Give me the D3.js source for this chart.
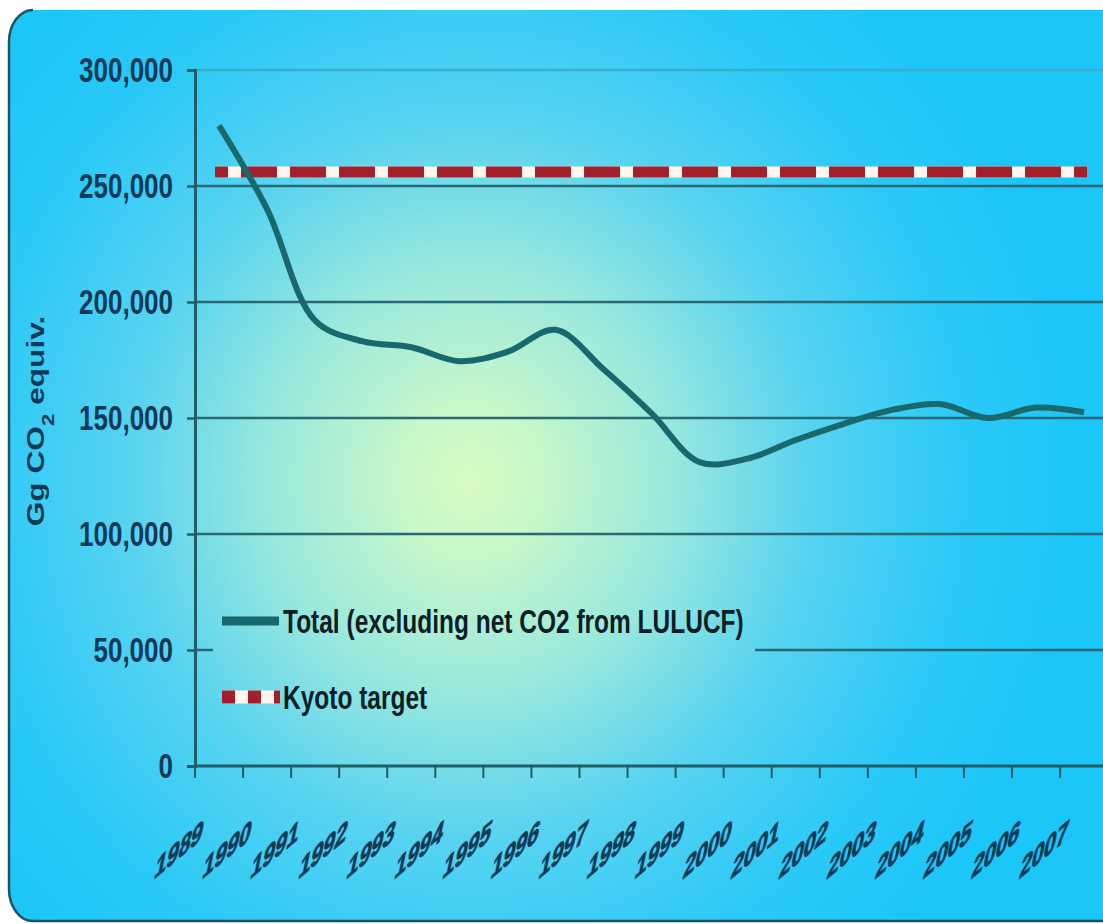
<!DOCTYPE html>
<html>
<head>
<meta charset="utf-8">
<script src="https://cdn.jsdelivr.net/npm/d3@7"></script>
<style>
  body { margin: 0; background: #ffffff; }
  svg { display: block; }
  text { font-family: "Liberation Sans", Arial, sans-serif; font-weight: bold; }
</style>
</head>
<body>
<svg id="chart" width="1103" height="924"></svg>
<script>
// Greenhouse gas emissions, Gg CO2 equivalent
const years = [1989, 1990, 1991, 1992, 1993, 1994, 1995, 1996, 1997, 1998,
               1999, 2000, 2001, 2002, 2003, 2004, 2005, 2006, 2007];
const totalEmissions = [276000, 240000, 192000, 183000, 180500, 174500, 178500, 188000, 171000, 152000,
                        131000, 132500, 140500, 147500, 153500, 156000, 150000, 154500, 152500];
const kyotoTarget = 256000;
const yTickValues = [0, 50000, 100000, 150000, 200000, 250000, 300000];
const seriesNames = ["Total (excluding net CO2 from LULUCF)", "Kyoto target"];
const yTitle = ["Gg CO", "2", " equiv."];

const W = 1103, H = 924;
const stretch = 1.32;           // tall, condensed lettering
const svg = d3.select("#chart");

// ---- background panel ----
const defs = svg.append("defs");
const bg = defs.append("radialGradient")
  .attr("id", "panelFill")
  .attr("gradientUnits", "userSpaceOnUse")
  .attr("cx", 470).attr("cy", 480).attr("r", 620)
  .attr("gradientTransform", "translate(470,480) scale(1,1.05) translate(-470,-480)");
[[0, "#d8fbc2"], [0.12, "#c6f7ca"], [0.33, "#98e8de"], [0.55, "#58d3f0"], [0.8, "#2ac9f7"], [1, "#1bc6f9"]]
  .forEach(([o, c]) => bg.append("stop").attr("offset", o).attr("stop-color", c));

const pLeft = 9, pTop = 10, pBottom = 921, rx = 24, ry = 32;
svg.append("path")
  .attr("d", `M${W} ${pTop} H${pLeft + rx} A${rx} ${ry} 0 0 0 ${pLeft} ${pTop + ry} V${pBottom - ry}
              A${rx} ${ry} 0 0 0 ${pLeft + rx} ${pBottom} H${W} Z`)
  .attr("fill", "url(#panelFill)");
svg.append("path")
  .attr("d", `M${pLeft + rx} ${pTop} A${rx} ${ry} 0 0 0 ${pLeft} ${pTop + ry} V${pBottom - ry}
              A${rx} ${ry} 0 0 0 ${pLeft + rx} ${pBottom} H${W}`)
  .attr("fill", "none").attr("stroke", "#1d5566").attr("stroke-width", 2.5);

// ---- scales ----
const x = d3.scaleBand().domain(years).range([195, 195 + years.length * 48.06]).padding(0);
const y = d3.scaleLinear().domain([0, 300000]).range([766, 70]);
const cx = d => x(d) + x.bandwidth() / 2;

// ---- horizontal gridlines ----
svg.append("g").selectAll("line")
  .data(yTickValues.filter(v => v > 0))
  .join("line")
  .attr("x1", x.range()[0]).attr("x2", W)
  .attr("y1", d => y(d)).attr("y2", d => y(d))
  .attr("stroke", d => d === 300000 ? "#35aed0" : "#2a6873")
  .attr("stroke-width", 2.5);

// ---- y axis ----
const yAxis = svg.append("g")
  .attr("transform", `translate(${x.range()[0]},0)`)
  .call(d3.axisLeft(y).tickValues(yTickValues).tickSize(8).tickFormat(d3.format(",")));
yAxis.select(".domain").attr("stroke", "#1f5d69").attr("stroke-width", 3);
yAxis.selectAll(".tick line").attr("stroke", "#1f5d69").attr("stroke-width", 2.5);
yAxis.selectAll(".tick text")
  .attr("x", null).attr("dy", null)
  .attr("transform", `translate(-22,0) scale(1,${stretch})`)
  .attr("dy", "0.34em")
  .attr("fill", "#0e3a58").attr("font-size", 26).attr("font-family", null);

// ---- x axis (year labels climb in a slanted staircase) ----
const xAxis = svg.append("g")
  .attr("transform", `translate(0,${y(0)})`)
  .call(d3.axisBottom(x).tickSize(0).tickSizeOuter(0));
xAxis.select(".domain").remove();
xAxis.selectAll(".tick text")
  .attr("y", null).attr("dy", null)
  .attr("text-anchor", "end")
  .attr("transform", "translate(-18,74) matrix(1.0,-0.83,-0.3,1.46,0,0)")
  .attr("fill", "#0e3a58").attr("stroke", "#0e3a58").attr("stroke-width", 0.7)
  .attr("font-size", 21.5).attr("font-family", null);

svg.append("line")
  .attr("x1", x.range()[0]).attr("x2", W)
  .attr("y1", y(0)).attr("y2", y(0))
  .attr("stroke", "#1f5d69").attr("stroke-width", 3);
svg.append("g").selectAll("line")
  .data(years)
  .join("line")
  .attr("x1", d => x(d)).attr("x2", d => x(d))
  .attr("y1", y(0)).attr("y2", y(0) + 12)
  .attr("stroke", "#1f5d69").attr("stroke-width", 2);

// ---- Kyoto target ----
const ky = y(kyotoTarget);
const kx0 = cx(years[0]) - 4, kx1 = cx(years[years.length - 1]) + 3;
svg.append("line")
  .attr("x1", kx0).attr("x2", kx1).attr("y1", ky).attr("y2", ky)
  .attr("stroke", "#fff6ee").attr("stroke-width", 11);
svg.append("line")
  .attr("x1", kx0).attr("x2", kx1).attr("y1", ky).attr("y2", ky)
  .attr("stroke", "#a3202b").attr("stroke-width", 11)
  .attr("stroke-dasharray", "36 13").attr("stroke-dashoffset", 23);

// ---- total emissions ----
const line = d3.line()
  .x((d, i) => cx(years[i]))
  .y(d => y(d))
  .curve(d3.curveCatmullRom.alpha(0.5));
svg.append("path")
  .datum(totalEmissions)
  .attr("d", line)
  .attr("fill", "none")
  .attr("stroke", "#17696d")
  .attr("stroke-width", 6)
  .attr("stroke-linejoin", "round");

// ---- legend ----
const legend = svg.append("g");
legend.append("rect")
  .attr("x", 213).attr("y", 585).attr("width", 542).attr("height", 150)
  .attr("fill", "url(#panelFill)");
const ly = [621, 697];
legend.append("line")
  .attr("x1", 222).attr("x2", 279).attr("y1", ly[0]).attr("y2", ly[0])
  .attr("stroke", "#17696d").attr("stroke-width", 9);
legend.append("line")
  .attr("x1", 222).attr("x2", 280).attr("y1", ly[1]).attr("y2", ly[1])
  .attr("stroke", "#fff6ee").attr("stroke-width", 13);
legend.append("line")
  .attr("x1", 222).attr("x2", 280).attr("y1", ly[1]).attr("y2", ly[1])
  .attr("stroke", "#a3202b").attr("stroke-width", 13)
  .attr("stroke-dasharray", "13 13");
legend.selectAll("text")
  .data(seriesNames)
  .join("text")
  .attr("transform", (d, i) => `translate(283,${ly[i]}) scale(1,${stretch})`)
  .attr("dy", "0.36em")
  .attr("font-size", 24.5)
  .attr("fill", "#0b1d26")
  .text(d => d);

// ---- y axis title ----
const title = svg.append("text")
  .attr("transform", `translate(36,421) scale(1,${stretch}) rotate(-90)`)
  .attr("text-anchor", "middle")
  .attr("dy", "0.35em")
  .attr("font-size", 24)
  .attr("fill", "#0e3a58");
title.append("tspan").text(yTitle[0]);
title.append("tspan").attr("baseline-shift", "sub").attr("font-size", "70%").text(yTitle[1]);
title.append("tspan").text(yTitle[2]);
</script>
</body>
</html>
